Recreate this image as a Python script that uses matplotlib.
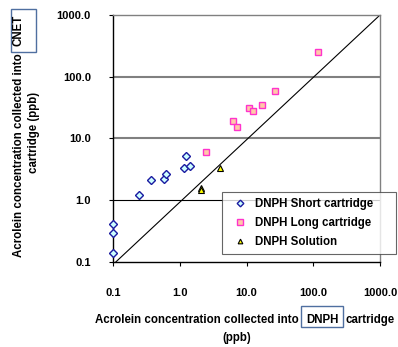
import matplotlib
matplotlib.use('Agg')
import matplotlib.pyplot as plt
from matplotlib.patches import Rectangle

plt.rcParams['font.family'] = ['Liberation Sans', 'DejaVu Sans']
plt.rcParams['font.weight'] = 'bold'

# Data (ppb)
short_x = [0.1, 0.1, 0.1, 0.245, 0.37, 0.58, 0.62, 1.16, 1.43, 1.26]
short_y = [0.41, 0.29, 0.14, 1.2, 2.14, 2.24, 2.67, 3.3, 3.56, 5.24]
long_x = [2.43, 6.17, 7.16, 10.8, 12.3, 17.0, 26.6, 119.0]
long_y = [6.1, 18.9, 15.5, 30.6, 28.1, 35.2, 57.8, 254.0]
sol_x = [2.07, 2.07, 3.98]
sol_y = [1.58, 1.45, 3.34]
one_to_one = [0.11, 1000.0]
tick_vals = [0.1, 1, 10, 100, 1000]
tick_labels = ['0.1', '1.0', '10.0', '100.0', '1000.0']

W, H = 398, 347
fs = 8.3
box_col = '#4f6fa0'


def fx(px):
    return px / W


def fy(py):
    return 1 - py / H


fig = plt.figure(figsize=(3.98, 3.47), dpi=100)
ax = fig.add_axes([0.284, 0.245, 0.671, 0.712])
ax.set_xscale('log')
ax.set_yscale('log')
ax.set_xlim(0.1, 1000)
ax.set_ylim(0.1, 1000)

ax.axhline(1, color='black', lw=0.8, zorder=1)
for v in [10, 100]:
    ax.axhline(v, color='#808080', lw=1.5, zorder=1)
ax.plot(one_to_one, [0.1, 1000.0], color='black', lw=0.8, zorder=2)

ax.plot(short_x, short_y, 'D', ms=4.5, mfc='#ccffff', mec='#1a1aa0', mew=1.0,
        label='DNPH Short cartridge', zorder=3, clip_on=False)
ax.plot(long_x, long_y, 's', ms=5, mfc='#ffc8a8', mec='#ff33cc', mew=1.0,
        label='DNPH Long cartridge', zorder=3)
ax.plot(sol_x, sol_y, '^', ms=4.5, mfc='#ffff00', mec='black', mew=0.8,
        label='DNPH Solution', zorder=3)

ax.set_xticks(tick_vals)
ax.set_xticklabels(tick_labels)
ax.set_yticks(tick_vals)
ax.set_yticklabels(tick_labels)
ax.minorticks_off()
ax.tick_params(axis='both', direction='out', length=3, width=0.8, labelsize=8)
ax.tick_params(axis='y', pad=13)
ax.tick_params(axis='x', pad=16)

for s in ['left', 'bottom']:
    ax.spines[s].set_color('black')
    ax.spines[s].set_linewidth(1.0)
for s in ['top', 'right']:
    ax.spines[s].set_color('#808080')
    ax.spines[s].set_linewidth(1.0)

leg = ax.legend(loc='lower left', bbox_to_anchor=(0.408, 0.032, 0.652, 0.26),
                mode='expand', fancybox=False, edgecolor='#404040',
                fontsize=fs, handlelength=2.0, handletextpad=0.3,
                labelspacing=0.6, borderpad=0.55, markerscale=0.75,
                borderaxespad=0)
leg.get_frame().set_linewidth(0.8)
leg.set_zorder(5)

# y label with boxed "CNET"
fig.text(fx(19), fy(53), 'Acrolein concentration collected into',
         rotation=90, ha='center', va='top', fontsize=fs)
fig.text(fx(19), fy(30), 'CNET', rotation=90, ha='center', va='center',
         fontsize=fs)
fig.patches.append(Rectangle((fx(11), fy(52)), fx(25), 43 / H,
                             transform=fig.transFigure, fill=False,
                             ec=box_col, lw=1))
fig.text(fx(34), fy(132), 'cartridge (ppb)', rotation=90,
         ha='center', va='center', fontsize=fs)

# x label with boxed "DNPH"
fig.text(fx(299), fy(320), 'Acrolein concentration collected into',
         ha='right', va='center', fontsize=fs)
fig.text(fx(322), fy(320), 'DNPH', ha='center', va='center', fontsize=fs)
fig.patches.append(Rectangle((fx(301), fy(327)), fx(42), 21 / H,
                             transform=fig.transFigure, fill=False,
                             ec=box_col, lw=1))
fig.text(fx(345), fy(320), 'cartridge', ha='left', va='center', fontsize=fs)
fig.text(fx(237), fy(338), '(ppb)', ha='center', va='center', fontsize=fs)

fig.savefig('out.png', dpi=100)
